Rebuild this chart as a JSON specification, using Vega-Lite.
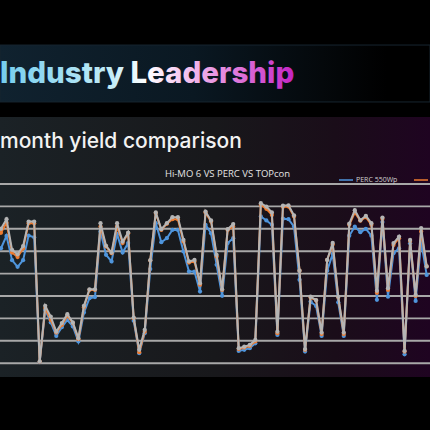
{
  "$schema": "https://vega.github.io/schema/vega-lite/v6.json",
  "width": 430,
  "height": 430,
  "autosize": {"type": "none"},
  "padding": 0,
  "background": "#000000",
  "config": {"view": {"stroke": null}},
  "datasets": {
    "daily": [
      {"day": 1, "PERC 550Wp": 5.13, "TOPcon": 5.82, "Hi-MO 6": 6.0},
      {"day": 2, "PERC 550Wp": 5.68, "TOPcon": 6.27, "Hi-MO 6": 6.43},
      {"day": 3, "PERC 550Wp": 4.6, "TOPcon": 4.94, "Hi-MO 6": 5.06},
      {"day": 4, "PERC 550Wp": 4.3, "TOPcon": 4.74, "Hi-MO 6": 4.86},
      {"day": 5, "PERC 550Wp": 4.6, "TOPcon": 5.13, "Hi-MO 6": 5.23},
      {"day": 6, "PERC 550Wp": 5.7, "TOPcon": 6.25, "Hi-MO 6": 6.32},
      {"day": 7, "PERC 550Wp": 5.62, "TOPcon": 6.25, "Hi-MO 6": 6.32},
      {"day": 8, "PERC 550Wp": 0.05, "TOPcon": 0.07, "Hi-MO 6": 0.08},
      {"day": 9, "PERC 550Wp": 2.38, "TOPcon": 2.46, "Hi-MO 6": 2.56},
      {"day": 10, "PERC 550Wp": 1.82, "TOPcon": 1.93, "Hi-MO 6": 2.08},
      {"day": 11, "PERC 550Wp": 1.22, "TOPcon": 1.37, "Hi-MO 6": 1.41},
      {"day": 12, "PERC 550Wp": 1.61, "TOPcon": 1.71, "Hi-MO 6": 1.79},
      {"day": 13, "PERC 550Wp": 1.93, "TOPcon": 2.11, "Hi-MO 6": 2.19},
      {"day": 14, "PERC 550Wp": 1.64, "TOPcon": 1.79, "Hi-MO 6": 1.82},
      {"day": 15, "PERC 550Wp": 0.97, "TOPcon": 1.07, "Hi-MO 6": 1.12},
      {"day": 16, "PERC 550Wp": 2.26, "TOPcon": 2.5, "Hi-MO 6": 2.56},
      {"day": 17, "PERC 550Wp": 2.9, "TOPcon": 3.27, "Hi-MO 6": 3.3},
      {"day": 18, "PERC 550Wp": 2.95, "TOPcon": 3.27, "Hi-MO 6": 3.3},
      {"day": 19, "PERC 550Wp": 5.88, "TOPcon": 6.1, "Hi-MO 6": 6.25},
      {"day": 20, "PERC 550Wp": 4.84, "TOPcon": 5.21, "Hi-MO 6": 5.24},
      {"day": 21, "PERC 550Wp": 4.54, "TOPcon": 4.91, "Hi-MO 6": 4.94},
      {"day": 22, "PERC 550Wp": 5.77, "TOPcon": 6.1, "Hi-MO 6": 6.25},
      {"day": 23, "PERC 550Wp": 4.94, "TOPcon": 5.36, "Hi-MO 6": 5.43},
      {"day": 24, "PERC 550Wp": 5.36, "TOPcon": 5.8, "Hi-MO 6": 5.83},
      {"day": 25, "PERC 550Wp": 1.9, "TOPcon": 2.01, "Hi-MO 6": 2.04},
      {"day": 26, "PERC 550Wp": 0.45, "TOPcon": 0.49, "Hi-MO 6": 0.6},
      {"day": 27, "PERC 550Wp": 1.34, "TOPcon": 1.41, "Hi-MO 6": 1.49},
      {"day": 28, "PERC 550Wp": 4.2, "TOPcon": 4.58, "Hi-MO 6": 4.6},
      {"day": 29, "PERC 550Wp": 6.25, "TOPcon": 6.7, "Hi-MO 6": 6.73},
      {"day": 30, "PERC 550Wp": 5.4, "TOPcon": 5.95, "Hi-MO 6": 5.98},
      {"day": 31, "PERC 550Wp": 5.58, "TOPcon": 6.22, "Hi-MO 6": 6.25},
      {"day": 32, "PERC 550Wp": 5.95, "TOPcon": 6.43, "Hi-MO 6": 6.52},
      {"day": 33, "PERC 550Wp": 5.95, "TOPcon": 6.43, "Hi-MO 6": 6.52},
      {"day": 34, "PERC 550Wp": 4.99, "TOPcon": 5.43, "Hi-MO 6": 5.51},
      {"day": 35, "PERC 550Wp": 4.09, "TOPcon": 4.49, "Hi-MO 6": 4.54},
      {"day": 36, "PERC 550Wp": 4.09, "TOPcon": 4.54, "Hi-MO 6": 4.61},
      {"day": 37, "PERC 550Wp": 3.2, "TOPcon": 3.5, "Hi-MO 6": 3.57},
      {"day": 38, "PERC 550Wp": 6.18, "TOPcon": 6.73, "Hi-MO 6": 6.77},
      {"day": 39, "PERC 550Wp": 5.8, "TOPcon": 6.32, "Hi-MO 6": 6.37},
      {"day": 40, "PERC 550Wp": 4.39, "TOPcon": 4.76, "Hi-MO 6": 4.84},
      {"day": 41, "PERC 550Wp": 3.01, "TOPcon": 3.27, "Hi-MO 6": 3.3},
      {"day": 42, "PERC 550Wp": 5.36, "TOPcon": 5.95, "Hi-MO 6": 5.98},
      {"day": 43, "PERC 550Wp": 5.58, "TOPcon": 6.1, "Hi-MO 6": 6.21},
      {"day": 44, "PERC 550Wp": 0.55, "TOPcon": 0.63, "Hi-MO 6": 0.67},
      {"day": 45, "PERC 550Wp": 0.6, "TOPcon": 0.7, "Hi-MO 6": 0.74},
      {"day": 46, "PERC 550Wp": 0.67, "TOPcon": 0.77, "Hi-MO 6": 0.82},
      {"day": 47, "PERC 550Wp": 0.89, "TOPcon": 0.97, "Hi-MO 6": 1.04},
      {"day": 48, "PERC 550Wp": 6.55, "TOPcon": 7.07, "Hi-MO 6": 7.14},
      {"day": 49, "PERC 550Wp": 6.37, "TOPcon": 6.89, "Hi-MO 6": 6.99},
      {"day": 50, "PERC 550Wp": 6.18, "TOPcon": 6.62, "Hi-MO 6": 6.73},
      {"day": 51, "PERC 550Wp": 1.26, "TOPcon": 1.34, "Hi-MO 6": 1.41},
      {"day": 52, "PERC 550Wp": 6.45, "TOPcon": 6.98, "Hi-MO 6": 7.03},
      {"day": 53, "PERC 550Wp": 6.43, "TOPcon": 6.99, "Hi-MO 6": 7.05},
      {"day": 54, "PERC 550Wp": 6.1, "TOPcon": 6.55, "Hi-MO 6": 6.6},
      {"day": 55, "PERC 550Wp": 3.72, "TOPcon": 4.13, "Hi-MO 6": 4.13},
      {"day": 56, "PERC 550Wp": 0.52, "TOPcon": 0.6, "Hi-MO 6": 0.63},
      {"day": 57, "PERC 550Wp": 2.75, "TOPcon": 2.93, "Hi-MO 6": 2.97},
      {"day": 58, "PERC 550Wp": 2.55, "TOPcon": 2.8, "Hi-MO 6": 2.82},
      {"day": 59, "PERC 550Wp": 1.22, "TOPcon": 1.3, "Hi-MO 6": 1.37},
      {"day": 60, "PERC 550Wp": 4.13, "TOPcon": 4.61, "Hi-MO 6": 4.61},
      {"day": 61, "PERC 550Wp": 4.88, "TOPcon": 5.3, "Hi-MO 6": 5.37},
      {"day": 62, "PERC 550Wp": 2.72, "TOPcon": 2.95, "Hi-MO 6": 2.97},
      {"day": 63, "PERC 550Wp": 1.22, "TOPcon": 1.3, "Hi-MO 6": 1.37},
      {"day": 64, "PERC 550Wp": 5.69, "TOPcon": 6.18, "Hi-MO 6": 6.23},
      {"day": 65, "PERC 550Wp": 6.1, "TOPcon": 6.72, "Hi-MO 6": 6.83},
      {"day": 66, "PERC 550Wp": 5.85, "TOPcon": 6.36, "Hi-MO 6": 6.38},
      {"day": 67, "PERC 550Wp": 6.0, "TOPcon": 6.52, "Hi-MO 6": 6.58},
      {"day": 68, "PERC 550Wp": 5.69, "TOPcon": 6.18, "Hi-MO 6": 6.25},
      {"day": 69, "PERC 550Wp": 2.83, "TOPcon": 3.14, "Hi-MO 6": 3.23},
      {"day": 70, "PERC 550Wp": 6.3, "TOPcon": 6.45, "Hi-MO 6": 6.5},
      {"day": 71, "PERC 550Wp": 2.97, "TOPcon": 3.27, "Hi-MO 6": 3.35},
      {"day": 72, "PERC 550Wp": 4.91, "TOPcon": 5.28, "Hi-MO 6": 5.36},
      {"day": 73, "PERC 550Wp": 5.13, "TOPcon": 5.58, "Hi-MO 6": 5.65},
      {"day": 74, "PERC 550Wp": 0.4, "TOPcon": 0.52, "Hi-MO 6": 0.55},
      {"day": 75, "PERC 550Wp": 5.35, "TOPcon": 5.45, "Hi-MO 6": 5.5},
      {"day": 76, "PERC 550Wp": 2.78, "TOPcon": 3.0, "Hi-MO 6": 3.05},
      {"day": 77, "PERC 550Wp": 5.43, "TOPcon": 5.88, "Hi-MO 6": 6.03},
      {"day": 78, "PERC 550Wp": 3.94, "TOPcon": 4.32, "Hi-MO 6": 4.32}
    ],
    "gridLevels": [
      {"level": 0}, {"level": 1}, {"level": 2}, {"level": 3}, {"level": 4},
      {"level": 5}, {"level": 6}, {"level": 7}, {"level": 8}
    ],
    "single": [{}]
  },
  "layer": [
    {
      "description": "Headline banner behind the title",
      "data": {"name": "single"},
      "mark": {
        "type": "rect",
        "stroke": "#17252f",
        "strokeWidth": 1,
        "fill": {
          "gradient": "linear", "x1": 0, "y1": 0, "x2": 1, "y2": 0,
          "stops": [
            {"offset": 0, "color": "#10222f"},
            {"offset": 0.45, "color": "#0a1822"},
            {"offset": 0.75, "color": "#04080b"},
            {"offset": 0.9, "color": "#000000"}
          ]
        }
      },
      "encoding": {
        "y": {"datum": 14.2, "type": "quantitative", "axis": null},
        "y2": {"datum": 11.66}
      }
    },
    {
      "description": "Chart panel",
      "data": {"name": "single"},
      "mark": {
        "type": "rect",
        "fill": {
          "gradient": "linear", "x1": 0, "y1": 0, "x2": 1, "y2": 0,
          "stops": [
            {"offset": 0, "color": "#1b2226"},
            {"offset": 0.5, "color": "#18181b"},
            {"offset": 0.78, "color": "#1a0d19"},
            {"offset": 1, "color": "#1f0421"}
          ]
        }
      },
      "encoding": {
        "y": {"datum": 10.99, "type": "quantitative", "axis": null},
        "y2": {"datum": -0.61}
      }
    },
    {
      "description": "Horizontal gridlines",
      "data": {"name": "gridLevels"},
      "mark": {"type": "rule", "color": "#a8a8a8", "strokeWidth": 1.9},
      "encoding": {
        "y": {"field": "level", "type": "quantitative", "axis": null}
      }
    },
    {
      "data": {"name": "daily"},
      "mark": {"type": "line", "strokeWidth": 2, "clip": true,
               "point": {"filled": true, "size": 18}},
      "encoding": {
        "x": {"field": "day", "type": "quantitative", "axis": null,
              "scale": {"domain": [0.82, 78.6], "nice": false, "zero": false}},
        "y": {"field": "PERC 550Wp", "type": "quantitative", "axis": null,
              "scale": {"domain": [-2.98, 16.21], "nice": false, "zero": false}},
        "color": {
          "datum": "PERC 550Wp", "type": "nominal",
          "scale": {"domain": ["PERC 550Wp", "TOPcon", "Hi-MO 6"],
                    "range": ["#4f95dc", "#ee7b30", "#b5b5b5"]},
          "legend": {
            "title": null, "orient": "none", "legendX": 338, "legendY": 172,
            "direction": "horizontal", "symbolType": "stroke", "symbolSize": 196,
            "symbolStrokeWidth": 1.5, "labelFontSize": 7, "labelFont": "Open Sans",
            "labelColor": "#cfcfcf", "columnPadding": 13, "labelOffset": 2
          }
        }
      }
    },
    {
      "data": {"name": "daily"},
      "mark": {"type": "line", "strokeWidth": 2, "clip": true,
               "point": {"filled": true, "size": 18}},
      "encoding": {
        "x": {"field": "day", "type": "quantitative", "axis": null},
        "y": {"field": "TOPcon", "type": "quantitative", "axis": null},
        "color": {"datum": "TOPcon", "type": "nominal"}
      }
    },
    {
      "data": {"name": "daily"},
      "mark": {"type": "line", "strokeWidth": 2, "clip": true,
               "point": {"filled": true, "size": 18}},
      "encoding": {
        "x": {"field": "day", "type": "quantitative", "axis": null},
        "y": {"field": "Hi-MO 6", "type": "quantitative", "axis": null},
        "color": {"datum": "Hi-MO 6", "type": "nominal"}
      }
    },
    {
      "data": {"name": "single"},
      "mark": {
        "type": "text", "text": "Industry Leadership", "font": "Inter",
        "fontWeight": 800, "fontSize": 29.5, "align": "left", "baseline": "alphabetic",
        "fill": {
          "gradient": "linear", "x1": 0, "y1": 0, "x2": 1, "y2": 0,
          "stops": [
            {"offset": 0, "color": "#74cdee"},
            {"offset": 0.38, "color": "#c2ecf6"},
            {"offset": 0.5, "color": "#ffffff"},
            {"offset": 0.66, "color": "#f2b6ea"},
            {"offset": 1, "color": "#c424c4"}
          ]
        }
      },
      "encoding": {
        "x": {"datum": 0.82, "type": "quantitative", "axis": null},
        "y": {"datum": 12.52, "type": "quantitative", "axis": null}
      }
    },
    {
      "data": {"name": "single"},
      "mark": {
        "type": "text", "text": "month yield comparison", "font": "Inter",
        "fontWeight": 500, "fontSize": 21, "align": "left", "baseline": "alphabetic",
        "fill": "#f2f2f2"
      },
      "encoding": {
        "x": {"datum": 0.82, "type": "quantitative", "axis": null},
        "y": {"datum": 9.594, "type": "quantitative", "axis": null}
      }
    },
    {
      "data": {"name": "single"},
      "mark": {
        "type": "text", "text": "Hi-MO 6 VS PERC VS TOPcon", "font": "Open Sans",
        "fontSize": 9.5, "align": "center", "baseline": "alphabetic", "fill": "#e4e4e4"
      },
      "encoding": {
        "x": {"datum": 41.97, "type": "quantitative", "axis": null},
        "y": {"datum": 8.33, "type": "quantitative", "axis": null}
      }
    }
  ]
}
